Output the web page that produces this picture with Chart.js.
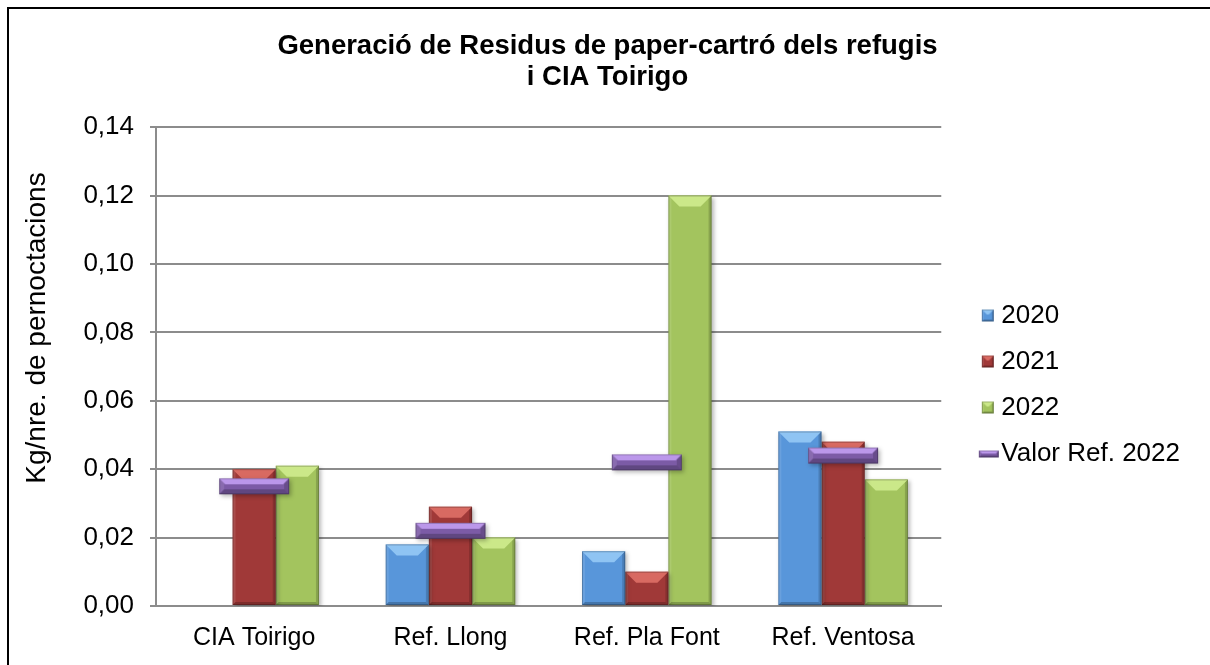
<!DOCTYPE html>
<html>
<head>
<meta charset="utf-8">
<script src="https://cdn.jsdelivr.net/npm/chart.js@4/dist/chart.umd.min.js"></script>
<style>
  html, body { margin: 0; padding: 0; background: #fff; }
  #wrap { width: 1210px; height: 665px; position: relative; }
</style>
</head>
<body>
<div id="wrap"><canvas id="chart" width="1210" height="665"></canvas></div>
<script>
const categories = ["CIA Toirigo", "Ref. Llong", "Ref. Pla Font", "Ref. Ventosa"];
const vals2020 = [null, 0.018, 0.016, 0.051];
const vals2021 = [0.040, 0.029, 0.010, 0.048];
const vals2022 = [0.041, 0.020, 0.120, 0.037];
const valorRef2022 = [0.035, 0.022, 0.042, 0.044];
const yTicks = [0, 0.02, 0.04, 0.06, 0.08, 0.10, 0.12, 0.14];
const yTitle = "Kg/nre. de pernoctacions";

const FONT = "'Liberation Sans', Arial, sans-serif";

// colours: flat face + lighter top facet
const blue = { base: "#5896da", light: "#8fc4f3" };
const red = { base: "#a03938", light: "#d86a62" };
const green = { base: "#a3c45e", light: "#cbe889" };
const purple = { base: "#7c5ba6", light: "#bb97ea" };

function poly(ctx, pts, fill) {
  ctx.beginPath();
  ctx.moveTo(pts[0][0], pts[0][1]);
  for (let i = 1; i < pts.length; i++) ctx.lineTo(pts[i][0], pts[i][1]);
  ctx.closePath();
  ctx.fillStyle = fill;
  ctx.fill();
}

// bevel facets over a rectangle that already has its flat colour
function bevel(ctx, x0, y0, x1, y1, col, s, side) {
  const w = x1 - x0, h = y1 - y0;
  s = Math.min(s, w / 2, h / 2);
  side = Math.min(side, w / 4);
  ctx.save();
  poly(ctx, [[x0, y0], [x0 + side, y0], [x0 + side, y1 - side], [x0, y1]], "rgba(255,255,255,0.10)");
  poly(ctx, [[x1, y0], [x1, y1], [x1 - side, y1 - side], [x1 - side, y0]], "rgba(0,0,0,0.16)");
  poly(ctx, [[x0, y1], [x0 + side, y1 - side], [x1 - side, y1 - side], [x1, y1]], "rgba(0,0,0,0.22)");
  poly(ctx, [[x0, y0], [x1, y0], [x1 - s, y0 + s], [x0 + s, y0 + s]], col.light);
  ctx.strokeStyle = "rgba(0,0,0,0.22)";
  ctx.lineWidth = 1;
  ctx.strokeRect(x0 + 0.5, y0 + 0.5, w - 1, h - 1);
  ctx.restore();
}

function makeIcon(w, h, col, rx, ry, rw, rh, s, side) {
  const c = document.createElement("canvas");
  c.width = w;
  c.height = h;
  const ctx = c.getContext("2d");
  ctx.fillStyle = col.base;
  ctx.fillRect(rx, ry, rw, rh);
  bevel(ctx, rx, ry, rx + rw, ry + rh, col, s, side);
  return c;
}

// reference-value marker drawn as a flat bevelled bar
const markerImg = makeIcon(72, 18, purple, 1, 1, 70, 16, 6, 5);
const legendIcons = [
  makeIcon(50, 14, blue, 32, 1, 12, 12, 5, 2),
  makeIcon(50, 14, red, 32, 1, 12, 12, 5, 2),
  makeIcon(50, 14, green, 32, 1, 12, 12, 5, 2),
  makeIcon(50, 10, purple, 29, 2, 20, 7, 3, 2)
];

// soft drop shadow under bars and markers, then bevel on the bars
const bevelPlugin = {
  id: "bevelBars",
  beforeDatasetDraw(chart) {
    const ctx = chart.ctx;
    ctx.shadowColor = "rgba(0,0,0,0.28)";
    ctx.shadowBlur = 4;
    ctx.shadowOffsetX = 2;
    ctx.shadowOffsetY = 2;
  },
  afterDatasetDraw(chart, args) {
    const ctx = chart.ctx;
    ctx.shadowColor = "rgba(0,0,0,0)";
    ctx.shadowBlur = 0;
    ctx.shadowOffsetX = 0;
    ctx.shadowOffsetY = 0;
    const meta = args.meta;
    if (meta.type !== "bar") return;
    const col = [blue, red, green][args.index];
    meta.data.forEach((bar, i) => {
      if (chart.data.datasets[args.index].data[i] == null) return;
      const p = bar.getProps(["x", "y", "base", "width"], true);
      bevel(ctx, p.x - p.width / 2, p.y, p.x + p.width / 2, p.base, col, 11, 3);
    });
  }
};

// white background, chart frame and the rotated value-axis title
const framePlugin = {
  id: "frame",
  beforeDraw(chart) {
    const ctx = chart.ctx;
    ctx.save();
    ctx.fillStyle = "#fff";
    ctx.fillRect(0, 0, chart.width, chart.height);
    ctx.strokeStyle = "#000";
    ctx.lineWidth = 2;
    ctx.beginPath();
    ctx.moveTo(8, chart.height + 5);
    ctx.lineTo(8, 8);
    ctx.lineTo(chart.width + 5, 8);
    ctx.stroke();

    ctx.translate(37, 328);
    ctx.rotate(-Math.PI / 2);
    ctx.fillStyle = "#000";
    ctx.font = "28px " + FONT;
    ctx.textAlign = "center";
    ctx.textBaseline = "middle";
    ctx.fillText(yTitle, 0, 0);
    ctx.restore();
  }
};

const fmt = v => v.toFixed(2).replace(".", ",");

new Chart(document.getElementById("chart"), {
  type: "bar",
  data: {
    labels: categories,
    datasets: [
      { label: "2020", data: vals2020, backgroundColor: blue.base },
      { label: "2021", data: vals2021, backgroundColor: red.base },
      { label: "2022", data: vals2022, backgroundColor: green.base },
      {
        type: "line",
        label: "Valor Ref. 2022",
        data: valorRef2022,
        showLine: false,
        pointStyle: markerImg,
        pointRadius: 5,
        order: -1
      }
    ]
  },
  options: {
    responsive: false,
    animation: false,
    devicePixelRatio: 1,
    categoryPercentage: 0.66,
    barPercentage: 1.0,
    layout: { padding: { left: 25, right: 20, top: 10, bottom: 0 } },
    plugins: {
      tooltip: { enabled: false },
      title: {
        display: true,
        text: ["Generació de Residus de paper-cartró dels refugis", "i CIA Toirigo"],
        color: "#000",
        font: { family: FONT, size: 27.5, weight: "bold", lineHeight: 1.13 },
        padding: { top: 21, bottom: 34 }
      },
      legend: {
        position: "right",
        title: { display: true, text: "", font: { size: 25, lineHeight: 1.2 }, padding: 32 },
        labels: {
          color: "#000",
          font: { family: FONT, size: 26 },
          usePointStyle: true,
          pointStyleWidth: 27,
          boxHeight: 14,
          padding: 20,
          generateLabels(chart) {
            return chart.data.datasets.map((ds, i) => ({
              text: ds.label,
              pointStyle: legendIcons[i],
              fillStyle: "transparent",
              strokeStyle: "transparent",
              lineWidth: 0,
              fontColor: "#000",
              hidden: false,
              datasetIndex: i
            }));
          }
        }
      }
    },
    scales: {
      x: {
        grid: { display: false, drawTicks: false },
        border: { display: true, color: "#8c8c8c", width: 2 },
        ticks: { color: "#000", font: { family: FONT, size: 25 }, padding: 17 },
        afterFit(s) { s.height = 59; }
      },
      y: {
        min: 0,
        max: 0.14,
        afterBuildTicks(s) { s.ticks = yTicks.map(v => ({ value: v })); },
        grid: { color: "#8c8c8c", lineWidth: 2, tickLength: 6, tickColor: "#8c8c8c" },
        border: { display: true, color: "#8c8c8c", width: 2 },
        ticks: { color: "#000", font: { family: FONT, size: 26 }, padding: 16, callback: v => fmt(v) },
        afterFit(s) { s.width = 131; }
      }
    }
  },
  plugins: [framePlugin, bevelPlugin]
});
</script>
</body>
</html>
